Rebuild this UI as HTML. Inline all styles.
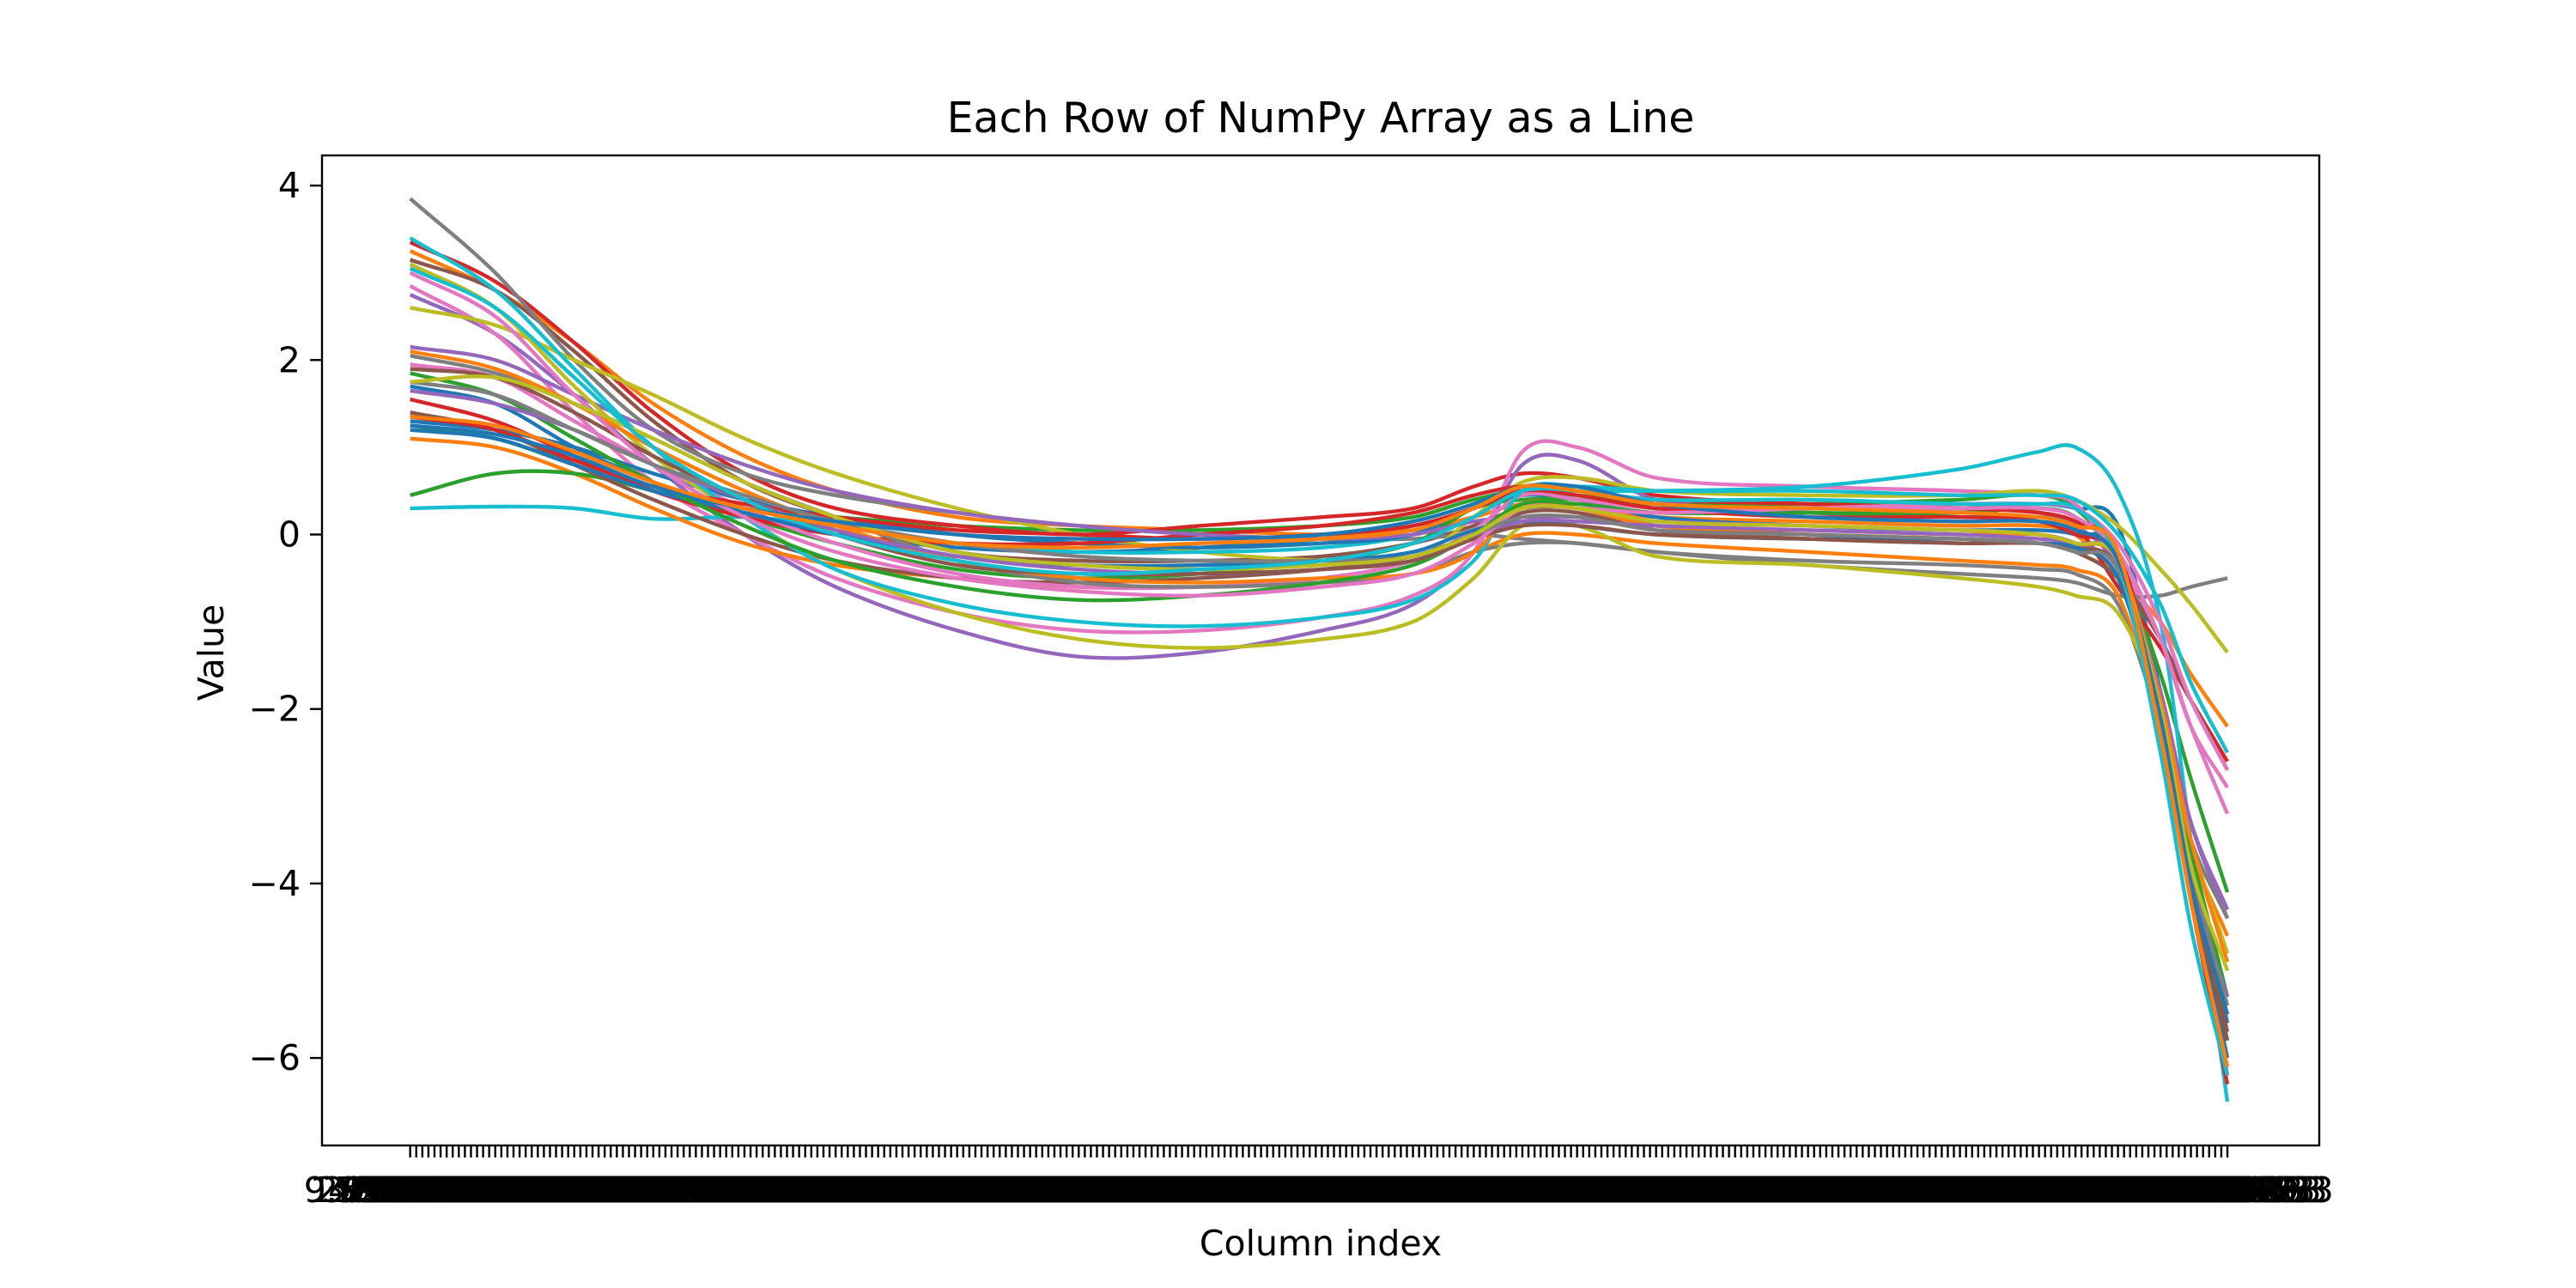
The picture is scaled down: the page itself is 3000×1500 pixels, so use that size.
<!DOCTYPE html>
<html><head><meta charset="utf-8"><title>Each Row of NumPy Array as a Line</title>
<style>html,body{margin:0;padding:0;background:#fff}svg{display:block}text{font-family:"DejaVu Sans","Liberation Sans",sans-serif;fill:#000}</style>
</head><body>
<svg id="chart" width="3000" height="1500" viewBox="0 0 3000 1500" xmlns="http://www.w3.org/2000/svg">
<rect x="0" y="0" width="3000" height="1500" fill="#fff"/>
<g id="lines"></g>
<g id="xticks"></g>
<g id="yticks"></g>
<rect x="375" y="181" width="2326" height="1153" fill="none" stroke="#000" stroke-width="2.4"/>
<text x="1538" y="154" font-size="49" text-anchor="middle">Each Row of NumPy Array as a Line</text>
<text x="1538" y="1462" font-size="41" text-anchor="middle">Column index</text>
<text x="260" y="760" font-size="41" text-anchor="middle" transform="rotate(-90 260 760)">Value</text>
</svg>
<script>
const nColumns = 300;
const knotColumns = [0,14,27,40,55,70,90,110,130,150,165,175,183,192,205,230,255,268,274,281,288,293,299];
const yTickValues = [-6,-4,-2,0,2,4];
const yTickLabels = ["\u22126","\u22124","\u22122","0","2","4"];
const colors = ["#1f77b4","#ff7f0e","#2ca02c","#d62728","#9467bd","#8c564b","#e377c2","#7f7f7f","#bcbd22","#17becf"];
const s0=[1.7,1.5,1.0,0.6,0.2,0.0,-0.15,-0.2,-0.15,-0.05,0.1,0.3,0.55,0.5,0.35,0.3,0.3,0.35,0.3,0.1,-1.8,-3.6,-5.6];
const s1=[3.25,2.8,2.2,1.5,0.9,0.5,0.2,0.1,0.05,0.0,0.05,0.2,0.35,0.3,0.2,0.15,0.1,0.1,0.0,-0.5,-1.0,-1.6,-2.2];
const s2=[1.25,1.1,0.8,0.5,0.3,0.2,0.1,0.05,0.05,0.1,0.2,0.4,0.5,0.45,0.35,0.35,0.4,0.45,0.3,-0.3,-1.6,-2.8,-4.1];
const s3=[3.35,2.9,2.2,1.4,0.7,0.3,0.1,0.0,0.1,0.2,0.3,0.55,0.7,0.65,0.45,0.35,0.3,0.25,0.1,-0.6,-1.3,-1.9,-2.6];
const s4=[2.75,2.3,1.6,0.8,0.0,-0.6,-1.1,-1.4,-1.35,-1.1,-0.8,-0.2,0.8,0.85,0.4,0.25,0.2,0.2,0.1,-0.4,-1.9,-3.3,-4.3];
const s5=[3.15,2.8,2.1,1.3,0.6,0.2,-0.2,-0.3,-0.3,-0.25,-0.1,0.1,0.3,0.3,0.1,0.0,-0.05,-0.1,-0.2,-0.5,-1.2,-1.9,-2.7];
const s6=[2.85,2.3,1.4,0.6,0.0,-0.5,-0.9,-1.1,-1.1,-0.95,-0.7,-0.2,0.95,1.0,0.65,0.55,0.5,0.45,0.35,-0.3,-1.2,-2.2,-3.2];
const s7=[3.85,3.0,2.0,1.2,0.7,0.45,0.25,0.1,0.0,-0.05,-0.05,0.0,-0.05,-0.1,-0.2,-0.35,-0.45,-0.5,-0.55,-0.7,-0.7,-0.6,-0.5];
const s8=[2.6,2.4,2.0,1.6,1.1,0.7,0.3,0.0,-0.2,-0.3,-0.3,0.2,0.6,0.65,0.5,0.45,0.45,0.5,0.4,0.1,-0.4,-0.8,-1.35];
const s9=[0.3,0.32,0.3,0.18,0.2,0.1,-0.1,-0.2,-0.2,-0.15,0.0,0.3,0.5,0.5,0.5,0.55,0.75,0.95,1.0,0.5,-1.0,-3.5,-6.5];
const s10=[1.3,1.2,1.0,0.7,0.4,0.2,0.0,-0.1,-0.15,-0.1,0.0,0.3,0.45,0.4,0.2,0.1,0.05,0.05,0.0,-0.2,-2.0,-3.9,-5.8];
const s11=[1.1,1.0,0.7,0.3,-0.1,-0.35,-0.5,-0.6,-0.6,-0.55,-0.45,-0.2,0.0,0.0,-0.1,-0.2,-0.3,-0.35,-0.4,-0.7,-2.2,-3.6,-4.6];
const s12=[0.45,0.7,0.7,0.5,0.2,-0.1,-0.4,-0.5,-0.45,-0.3,-0.1,0.3,0.4,0.4,0.3,0.25,0.25,0.3,0.2,-0.3,-2.0,-3.6,-5.3];
const s13=[1.55,1.3,0.9,0.5,0.2,0.0,-0.1,-0.1,0.0,0.1,0.25,0.45,0.55,0.5,0.4,0.35,0.3,0.25,0.15,-0.2,-2.0,-4.0,-6.2];
const s14=[2.15,2.0,1.6,1.2,0.8,0.5,0.25,0.1,0.0,-0.05,0.0,0.15,0.2,0.2,0.15,0.1,0.05,0.0,-0.1,-0.4,-1.8,-3.3,-4.4];
const s15=[1.4,1.2,0.8,0.4,0.0,-0.3,-0.5,-0.55,-0.5,-0.4,-0.25,0.0,0.25,0.25,0.05,-0.05,-0.1,-0.1,-0.15,-0.4,-2.1,-3.9,-5.7];
const s16=[1.95,1.8,1.3,0.8,0.3,-0.1,-0.45,-0.6,-0.6,-0.5,-0.3,0.05,0.45,0.4,0.3,0.3,0.3,0.3,0.2,-0.2,-1.2,-2.2,-2.9];
const s17=[2.05,1.85,1.5,1.1,0.6,0.2,-0.3,-0.55,-0.6,-0.55,-0.45,-0.2,-0.1,-0.1,-0.2,-0.3,-0.35,-0.4,-0.45,-0.8,-2.2,-3.5,-4.4];
const s18=[3.1,2.6,1.7,0.9,0.2,-0.4,-0.9,-1.2,-1.3,-1.2,-1.0,-0.5,0.1,0.1,-0.25,-0.35,-0.5,-0.6,-0.7,-0.9,-2.0,-3.5,-4.8];
const s19=[3.4,2.8,1.9,1.0,0.2,-0.4,-0.8,-1.0,-1.05,-0.95,-0.75,-0.3,0.5,0.55,0.5,0.5,0.45,0.45,0.4,0.0,-0.8,-1.7,-2.5];
const s20=[1.2,1.1,0.8,0.5,0.25,0.0,-0.25,-0.35,-0.35,-0.3,-0.2,0.05,0.15,0.1,0.0,-0.05,-0.05,-0.1,-0.15,-0.5,-2.2,-4.0,-6.0];
const s21=[2.1,1.9,1.5,1.0,0.5,0.1,-0.3,-0.5,-0.55,-0.5,-0.45,-0.2,0.35,0.3,0.1,0.05,0.0,0.0,-0.1,-0.3,-1.9,-3.5,-4.9];
const s22=[1.85,1.6,1.1,0.6,0.1,-0.3,-0.6,-0.75,-0.7,-0.55,-0.35,0.0,0.35,0.35,0.25,0.25,0.2,0.2,0.1,-0.2,-2.3,-4.1,-5.5];
const s23=[1.35,1.2,0.85,0.55,0.35,0.2,0.05,0.0,-0.05,0.0,0.1,0.3,0.5,0.45,0.3,0.2,0.2,0.15,0.0,-0.3,-2.3,-4.2,-6.3];
const s24=[1.65,1.5,1.2,0.8,0.4,0.05,-0.25,-0.4,-0.45,-0.4,-0.3,-0.05,0.15,0.15,0.1,0.05,0.0,-0.05,-0.1,-0.3,-2.0,-4.0,-5.3];
const s25=[1.9,1.8,1.4,0.9,0.4,0.0,-0.35,-0.45,-0.45,-0.4,-0.3,-0.05,0.1,0.1,0.0,-0.05,-0.1,-0.1,-0.2,-0.4,-2.2,-4.0,-5.8];
const s26=[3.0,2.5,1.6,0.8,0.2,-0.2,-0.5,-0.65,-0.7,-0.6,-0.45,-0.1,0.3,0.3,0.25,0.3,0.35,0.35,0.3,-0.1,-1.0,-1.9,-2.7];
const s27=[1.75,1.6,1.2,0.8,0.45,0.15,-0.1,-0.25,-0.3,-0.3,-0.25,0.0,0.2,0.2,0.05,0.0,-0.05,-0.1,-0.2,-0.4,-2.1,-3.8,-5.4];
const s28=[1.75,1.8,1.5,1.1,0.6,0.2,-0.2,-0.35,-0.4,-0.35,-0.25,0.0,0.3,0.3,0.15,0.1,0.05,0.0,-0.1,-0.3,-2.0,-3.8,-5.0];
const s29=[3.05,2.6,1.8,1.0,0.4,0.0,-0.3,-0.45,-0.4,-0.3,-0.1,0.2,0.5,0.5,0.4,0.4,0.35,0.35,0.3,-0.3,-2.5,-4.5,-6.2];
const s30=[1.25,1.15,0.9,0.55,0.3,0.15,0.0,-0.05,-0.05,0.0,0.15,0.35,0.55,0.55,0.35,0.2,0.15,0.15,0.05,-0.3,-2.1,-4.0,-5.5];
const s31=[1.35,1.25,0.95,0.6,0.3,0.1,-0.1,-0.15,-0.1,-0.05,0.05,0.3,0.55,0.5,0.35,0.3,0.25,0.2,0.1,-0.2,-2.3,-4.2,-6.1];
const series=[s0,s1,s2,s3,s4,s5,s6,s7,s8,s9,s10,s11,s12,s13,s14,s15,s16,s17,s18,s19,s20,s21,s22,s23,s24,s25,s26,s27,s28,s29,s30,s31];

const NS="http://www.w3.org/2000/svg";
const X0=477.7, X1=2594;
function xScale(i){return X0+(X1-X0)*i/(nColumns-1);}
function yScale(v){return 622.5-101.6*v;}

function pathFor(vals){
  const p=knotColumns.map((c,i)=>[xScale(c),yScale(vals[i])]);
  let d="M"+p[0][0].toFixed(1)+","+p[0][1].toFixed(1);
  for(let i=0;i<p.length-1;i++){
    const a=p[Math.max(0,i-1)],b=p[i],c=p[i+1],e=p[Math.min(p.length-1,i+2)];
    const h=c[0]-b[0];
    const m1=(c[1]-a[1])/((c[0]-a[0])||1), m2=(e[1]-b[1])/((e[0]-b[0])||1);
    const c1x=b[0]+h/3, c1y=b[1]+m1*h/3;
    const c2x=c[0]-h/3, c2y=c[1]-m2*h/3;
    d+=" C"+c1x.toFixed(1)+","+c1y.toFixed(1)+" "+c2x.toFixed(1)+","+c2y.toFixed(1)+" "+c[0].toFixed(1)+","+c[1].toFixed(1);
  }
  return d;
}

const lines=document.getElementById('lines');
series.forEach((vals,k)=>{
  const el=document.createElementNS(NS,'path');
  el.setAttribute('d',pathFor(vals));
  el.setAttribute('fill','none');
  el.setAttribute('stroke',colors[k%10]);
  el.setAttribute('stroke-width','4.4');
  el.setAttribute('stroke-linejoin','round');
  
  
  lines.appendChild(el);
});

const yt=document.getElementById('yticks');
yTickValues.forEach((v,i)=>{
  const y=yScale(v);
  const tk=document.createElementNS(NS,'line');
  tk.setAttribute('x1',361);tk.setAttribute('x2',375);tk.setAttribute('y1',y);tk.setAttribute('y2',y);
  tk.setAttribute('stroke','#000');tk.setAttribute('stroke-width','2.4');
  
  
  yt.appendChild(tk);
  const tx=document.createElementNS(NS,'text');
  tx.setAttribute('x',350);tx.setAttribute('y',y+14);tx.setAttribute('font-size','41');tx.setAttribute('text-anchor','end');
  tx.textContent=yTickLabels[i];
  
  
  yt.appendChild(tx);
});

const xt=document.getElementById('xticks');
for(let i=0;i<nColumns;i++){
  const x=xScale(i);
  const tk=document.createElementNS(NS,'line');
  tk.setAttribute('x1',x);tk.setAttribute('x2',x);tk.setAttribute('y1',1334);tk.setAttribute('y2',1348);
  tk.setAttribute('stroke','#000');tk.setAttribute('stroke-width','2.4');
  
  
  xt.appendChild(tk);
  const tx=document.createElementNS(NS,'text');
  tx.setAttribute('x',x);tx.setAttribute('y',1400);tx.setAttribute('font-size','41');tx.setAttribute('text-anchor','middle');
  tx.textContent=(i===0?"9":String(i%10))+".99"+String(100000+i*337).slice(1)+"3";
  
  
  xt.appendChild(tx);
}
</script>
</body></html>
